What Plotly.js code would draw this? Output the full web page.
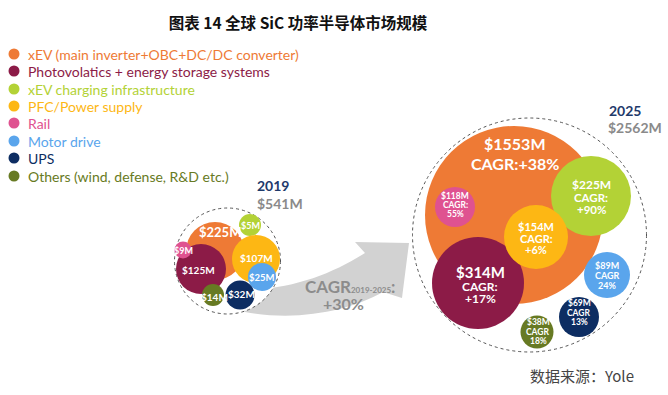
<!DOCTYPE html>
<html><head><meta charset="utf-8">
<script src="https://cdn.plot.ly/plotly-3.0.1.min.js"></script>
<style>html,body{margin:0;padding:0;background:#fff}#chart{width:668px;height:395px}</style>
</head><body><div id="chart"></div>
<script>
// ---- data ----
const categories = ['xEV (main inverter+OBC+DC/DC converter)', 'Photovolatics + energy storage systems', 'xEV charging infrastructure', 'PFC/Power supply', 'Rail', 'Motor drive', 'UPS', 'Others (wind, defense, R&D etc.)'];
const value2019 = [225, 125, 5, 107, 9, 25, 32, 14];
const value2025 = [1553, 314, 225, 154, 118, 89, 69, 38];
const cagr2025 = ['+38%', '+17%', '+90%', '+6%', '55%', '24%', '13%', '18%'];
const cagrPrefix = ['CAGR:', 'CAGR:', 'CAGR:', 'CAGR:', 'CAGR:', 'CAGR', 'CAGR', 'CAGR'];
const total2019 = 541, total2025 = 2562, totalCagr = '+30%';
const years = ['2019', '2025'];

// ---- styling / layout ----
const colors = ['#EE7A35', '#8C1B47', '#B3D236', '#FDB714', '#DF5290', '#5AA5EC', '#0D2D62', '#677A23'];
const FONT = 'Lato, "Noto Sans", sans-serif';
const cx2019 = [215, 201, 250, 256, 183, 262, 240, 213];
const cy2019 = [251, 269, 225, 259, 250, 277, 295, 295];
const r2019 = [29, 25, 11, 24, 8.5, 14, 14.5, 11];
const lab2019 = [[220, 232, 13], [198, 270, 10], [250, 225, 9], [256, 258, 10], [183, 250, 9], [262, 277, 9.5], [241, 294, 10], [214, 297, 10]];
const cx2025 = [514, 478, 591, 536, 455, 607, 579, 537];
const cy2025 = [215, 283, 196, 237, 207, 275, 317, 332];
const r2025 = [89, 46, 40, 32, 20, 23, 20, 16.5];
const labX2025 = [515, 480, 591, 536, 455, 607, 579, 538];
const labY2025 = [[143, 163], [272, 286, 298], [184, 197, 209], [226, 238, 249], [196, 205, 214], [265, 275, 285], [303, 312.5, 322], [322, 332, 341]];
const labSize2025 = [[16, 16], [15, 12, 12], [12, 11.5, 11.5], [11, 11, 11], [8.5, 8.5, 8.5], [9, 9, 9], [8.5, 8.5, 8.5], [8.5, 8.5, 8.5]];
const legendY = [54, 71, 89, 106, 123, 141, 158, 176];

const traces = [];
// legend dots
traces.push({type: 'scatter', mode: 'markers', x: legendY.map(() => 14), y: legendY,
  marker: {size: 11, color: colors}, hoverinfo: 'skip', showlegend: false});
// 2019 bubbles
traces.push({type: 'scatter', mode: 'markers', x: cx2019, y: cy2019,
  text: categories, customdata: value2019, hovertemplate: '%{text}: $%{customdata}M<extra>2019</extra>',
  marker: {size: r2019.map(r => 2 * r), sizemode: 'diameter', color: colors, opacity: 1, line: {width: 0}}, showlegend: false});
// 2025 bubbles
traces.push({type: 'scatter', mode: 'markers', x: cx2025, y: cy2025,
  text: categories, customdata: value2025, hovertemplate: '%{text}: $%{customdata}M<extra>2025</extra>',
  marker: {size: r2025.map(r => 2 * r), sizemode: 'diameter', color: colors, opacity: 1, line: {width: 0}}, showlegend: false});

const ann = [];
categories.forEach((c, i) => {
  ann.push({x: 26, y: legendY[i], xanchor: 'left', yanchor: 'middle', text: c, showarrow: false,
    font: {family: FONT, size: 14, color: colors[i]}});
  // 2019 labels
  const l = lab2019[i];
  ann.push({x: l[0], y: l[1], text: '<b>$' + value2019[i] + 'M</b>', showarrow: false,
    xanchor: 'center', yanchor: 'middle', font: {family: FONT, size: l[2], color: '#ffffff'}});
  // 2025 labels
  const lines = i === 0 ? ['$' + value2025[i] + 'M', cagrPrefix[i] + cagr2025[i]]
                        : ['$' + value2025[i] + 'M', cagrPrefix[i], cagr2025[i]];
  lines.forEach((t, j) => {
    ann.push({x: labX2025[i], y: labY2025[i][j], text: '<b>' + t + '</b>', showarrow: false,
      xanchor: 'center', yanchor: 'middle', font: {family: FONT, size: labSize2025[i][j], color: '#ffffff'}});
  });
});
// year / totals
ann.push({x: 255, y: 185, xanchor: 'left', yanchor: 'middle', text: '<b>' + years[0] + '</b>', showarrow: false, font: {family: FONT, size: 14, color: '#1F3A6B'}});
ann.push({x: 255, y: 203, xanchor: 'left', yanchor: 'middle', text: '<b>$' + total2019 + 'M</b>', showarrow: false, font: {family: FONT, size: 14, color: '#8A8A8A'}});
ann.push({x: 607, y: 110, xanchor: 'left', yanchor: 'middle', text: '<b>' + years[1] + '</b>', showarrow: false, font: {family: FONT, size: 14, color: '#1F3A6B'}});
ann.push({x: 606, y: 127, xanchor: 'left', yanchor: 'middle', text: '<b>$' + total2025 + 'M</b>', showarrow: false, font: {family: FONT, size: 14, color: '#8A8A8A'}});
// CAGR text
ann.push({x: 303, y: 286, xanchor: 'left', yanchor: 'middle', text: '<b>CAGR<span style="font-size:8px">' + years[0] + '-' + years[1] + '</span>:</b>', showarrow: false, font: {family: FONT, size: 17, color: '#8C8C8C'}});
ann.push({x: 343, y: 303, xanchor: 'center', yanchor: 'middle', text: '<b>' + totalCagr + '</b>', showarrow: false, font: {family: FONT, size: 16, color: '#8C8C8C'}});
// source
ann.push({x: 582, y: 375, xanchor: 'center', yanchor: 'middle', text: '数据来源：Yole', showarrow: false, font: {family: '"Noto Sans CJK SC", sans-serif', size: 15, color: '#444444'}});

function circ(cx, cy, r) {
  return {type: 'circle', xref: 'x', yref: 'y', x0: cx - r, x1: cx + r, y0: cy - r, y1: cy + r,
    line: {color: '#555555', width: 1, dash: 'dot'}, fillcolor: '#ffffff', layer: 'below'};
}
const shapes = [
  {type: 'path', xref: 'x', yref: 'y', layer: 'below', fillcolor: '#D2D2D2', line: {width: 0},
   path: 'M 240,290 C 290,290 330,275 365,253 L 355,242 L 409,243 L 402,298 L 383,292 C 350,310 300,322 245,312 Z'},
  circ(227.5, 261, 53),
  circ(529.5, 235, 117)
];

const layout = {
  width: 668, height: 395, margin: {l: 0, r: 0, t: 0, b: 0},
  paper_bgcolor: '#ffffff', plot_bgcolor: '#ffffff',
  title: {text: '<b>图表 14 全球 SiC 功率半导体市场规模</b>', x: 298 / 668, xanchor: 'center', y: 1 - 24 / 395, yanchor: 'middle', yref: 'container',
    font: {family: '"Noto Sans CJK SC", sans-serif', size: 15.5, color: '#111111'}},
  xaxis: {range: [0, 668], visible: false, fixedrange: true},
  yaxis: {range: [395, 0], visible: false, fixedrange: true},
  showlegend: false, annotations: ann, shapes: shapes, hovermode: 'closest'
};
Plotly.newPlot('chart', traces, layout, {displayModeBar: false, staticPlot: false});
</script></body></html>
